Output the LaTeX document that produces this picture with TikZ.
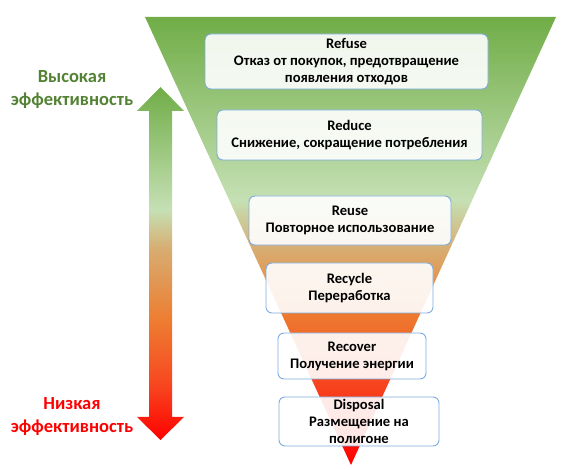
\documentclass[tikz,border=0pt]{standalone}
\usepackage{fontspec}
\setmainfont{Carlito}
\usetikzlibrary{positioning}

\definecolor{topgreen}{RGB}{112,173,71}
\definecolor{palegreen}{RGB}{197,224,180}
\definecolor{tan}{RGB}{216,172,112}
\definecolor{midorange}{RGB}{237,125,49}
\definecolor{redorange}{RGB}{247,72,32}
\definecolor{lowred}{RGB}{255,0,0}
\definecolor{highgreen}{RGB}{84,130,53}
\definecolor{boxline}{RGB}{125,172,222}

\pgfdeclareverticalshading{funnelshade}{100bp}{color(0bp)=(lowred); color(25bp)=(lowred);
  color(34.5bp)=(redorange); color(42.3bp)=(midorange); color(49bp)=(tan);
  color(54.6bp)=(palegreen); color(75bp)=(topgreen); color(100bp)=(topgreen)}
\pgfdeclareverticalshading{arrowshade}{100bp}{color(0bp)=(lowred); color(25bp)=(lowred);
  color(33bp)=(redorange); color(42bp)=(midorange); color(52bp)=(tan);
  color(57.6bp)=(palegreen); color(75bp)=(topgreen); color(100bp)=(topgreen)}

\begin{document}
\begin{tikzpicture}[
    x=1pt, y=-1pt,
    level/.style={draw=boxline, line width=0.9pt, fill=white, fill opacity=0.9, text opacity=1,
      rounded corners=6pt, align=center, inner sep=2pt,
      font=\fontsize{14.6}{17}\selectfont\bfseries},
    effect/.style={align=center, font=\fontsize{18.5}{23}\selectfont\bfseries},
  ]
  \useasboundingbox (0,0) rectangle (566,470);

  % Funnel
  \shade[shading=funnelshade] (145,17) -- (556,17) -- (351,465) -- cycle;

  % Efficiency arrow
  \shade[shading=arrowshade] (160.5,87) -- (184,111) -- (172,111) -- (172,417) -- (184,417)
    -- (160.5,440) -- (137,417) -- (149,417) -- (149,111) -- (137,111) -- cycle;

  % Labels on the left
  \node[effect, text=highgreen] (high) at (72,89.5) {Высокая\\эффективность};
  \node[effect, text=lowred] (low) at (72,416) {Низкая\\эффективность};

  % Levels of the funnel
  \node[level, minimum width=283, minimum height=55] (refuse) at (346.5,61.5)
    {Refuse\\Отказ от покупок, предотвращение\\появления отходов};
  \node[level, minimum width=265, minimum height=50] (reduce) at (349.5,135)
    {Reduce\\Снижение, сокращение потребления};
  \node[level, minimum width=202, minimum height=49] (reuse) at (350,220.5)
    {Reuse\\Повторное использование};
  \node[level, minimum width=167, minimum height=50] (recycle) at (349.5,288)
    {Recycle\\Переработка};
  \node[level, minimum width=148, minimum height=46] (recover) at (352,356)
    {Recover\\Получение энергии};
  \node[level, minimum width=160, minimum height=49] (disposal) at (359,421.5)
    {Disposal\\Размещение на\\полигоне};
\end{tikzpicture}
\end{document}
